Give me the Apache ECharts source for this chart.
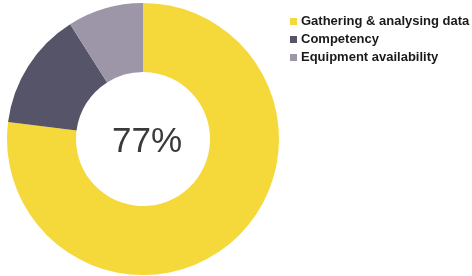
<!DOCTYPE html>
<html>
<head>
<meta charset="utf-8">
<script src="https://cdn.jsdelivr.net/npm/echarts@6/dist/echarts.min.js"></script>
<style>
html,body{margin:0;padding:0;background:#fff;}
#chart{width:472px;height:276px;}
</style>
</head>
<body>
<div id="chart"></div>
<script>
var categories = ['Gathering & analysing data', 'Competency', 'Equipment availability'];
var values = [77, 14, 9];
var colors = ['#f5d83a', '#565468', '#9c96a8'];
var centerText = '77%';

var myChart = echarts.init(document.getElementById('chart'));

var pieData = [];
for (var i = 0; i < categories.length; i++) {
    pieData.push({name: categories[i], value: values[i], itemStyle: {color: colors[i]}});
}

option = {
    animation: false,
    // big number in the hole
    title: {
        text: centerText,
        left: 142,
        top: 120,
        textAlign: 'center',
        padding: [5, 5, 5, 5],
        textStyle: {
            fontFamily: 'Liberation Sans',
            fontSize: 35,
            fontWeight: 'normal',
            color: '#3a3a3a'
        }
    },
    legend: {
        orient: 'vertical',
        left: 285,
        top: 10,
        icon: 'rect',
        itemWidth: 7,
        itemHeight: 7,
        itemGap: 5,
        data: categories,
        textStyle: {
            fontFamily: 'Liberation Sans',
            fontSize: 13,
            fontWeight: 'bold',
            color: '#1a1a1a',
            padding: [0, 0, 0, -1]
        }
    },
    series: [{
        type: 'pie',
        center: [143, 139],
        radius: [67, 136],
        startAngle: 90,
        clockwise: true,
        label: {show: false},
        labelLine: {show: false},
        emphasis: {disabled: true},
        data: pieData
    }]
};
myChart.setOption(option, true);
</script>
</body>
</html>
